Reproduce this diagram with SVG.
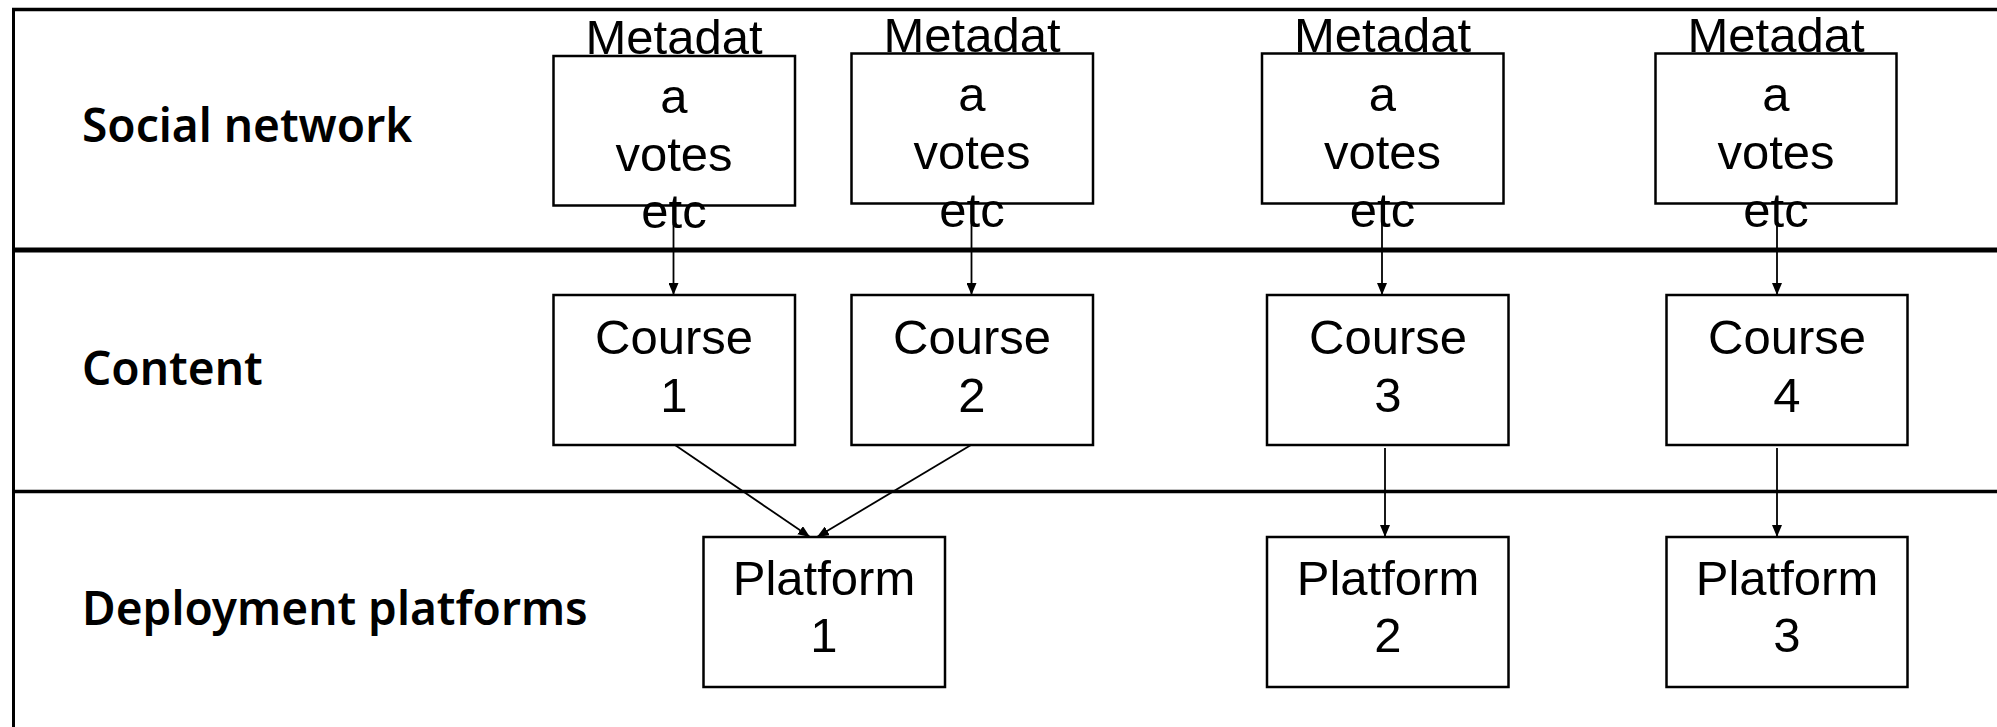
<svg xmlns="http://www.w3.org/2000/svg" width="1997" height="727" viewBox="0 0 1997 727">
<style>
.box{fill:none;stroke:#000;stroke-width:2.5}
.t{font-family:"Liberation Sans",Arial,sans-serif;font-size:49px;fill:#000;text-anchor:middle}
.lab{font-family:"Noto Sans","Open Sans",sans-serif;font-size:46px;font-weight:600;fill:#000}
.con{stroke:#000;stroke-width:1.8;fill:none;marker-end:url(#ah)}
.frame{stroke:#000;fill:none}
</style>
<defs>
<marker id="ah" markerUnits="userSpaceOnUse" markerWidth="12" markerHeight="10" refX="12" refY="5" orient="auto">
<path d="M0,0 L12,5 L0,10 z" fill="#000"/>
</marker>
</defs>
<rect width="1997" height="727" fill="#fff"/>
<g id="frame">
<line class="frame" x1="12" y1="9.5" x2="1997" y2="9.5" stroke-width="3.5"/>
<line class="frame" x1="13.5" y1="8" x2="13.5" y2="727" stroke-width="3"/>
<line class="frame" x1="12" y1="250" x2="1997" y2="250" stroke-width="5"/>
<line class="frame" x1="12" y1="491.5" x2="1997" y2="491.5" stroke-width="3.5"/>
</g>
<g id="lane-labels">
<text class="lab" x="82" y="142">Social network</text>
<text class="lab" x="82" y="385">Content</text>
<text class="lab" x="82" y="625">Deployment platforms</text>
</g>
<g id="meta1">
<text class="t" x="674"><tspan x="674" y="54">Metadat</tspan><tspan x="674" y="113">a</tspan><tspan x="674" y="170.5">votes</tspan><tspan x="674" y="228">etc</tspan></text>
<rect class="box" x="553.5" y="56" width="241.5" height="149.5"/>
</g>
<g id="meta2">
<text class="t" x="972"><tspan x="972" y="52">Metadat</tspan><tspan x="972" y="110.5">a</tspan><tspan x="972" y="168.5">votes</tspan><tspan x="972" y="227">etc</tspan></text>
<rect class="box" x="851.5" y="53.5" width="241.5" height="150"/>
</g>
<g id="meta3">
<text class="t" x="1382.5"><tspan x="1382.5" y="52">Metadat</tspan><tspan x="1382.5" y="110.5">a</tspan><tspan x="1382.5" y="168.5">votes</tspan><tspan x="1382.5" y="227">etc</tspan></text>
<rect class="box" x="1262" y="53.5" width="241.5" height="150"/>
</g>
<g id="meta4">
<text class="t" x="1776"><tspan x="1776" y="52">Metadat</tspan><tspan x="1776" y="110.5">a</tspan><tspan x="1776" y="168.5">votes</tspan><tspan x="1776" y="227">etc</tspan></text>
<rect class="box" x="1655.5" y="53.5" width="241" height="150"/>
</g>
<g id="course1">
<rect class="box" x="553.5" y="295" width="241.5" height="150"/>
<text class="t"><tspan x="674" y="354">Course</tspan><tspan x="674" y="411.5">1</tspan></text>
</g>
<g id="course2">
<rect class="box" x="851.5" y="295" width="241.5" height="150"/>
<text class="t"><tspan x="972" y="354">Course</tspan><tspan x="972" y="411.5">2</tspan></text>
</g>
<g id="course3">
<rect class="box" x="1267" y="295" width="241.5" height="150"/>
<text class="t"><tspan x="1388" y="354">Course</tspan><tspan x="1388" y="411.5">3</tspan></text>
</g>
<g id="course4">
<rect class="box" x="1666.5" y="295" width="241" height="150"/>
<text class="t"><tspan x="1787" y="354">Course</tspan><tspan x="1787" y="411.5">4</tspan></text>
</g>
<g id="platform1">
<rect class="box" x="703.5" y="537" width="241.5" height="150"/>
<text class="t"><tspan x="824" y="595">Platform</tspan><tspan x="824" y="652">1</tspan></text>
</g>
<g id="platform2">
<rect class="box" x="1267" y="537" width="241.5" height="150"/>
<text class="t"><tspan x="1388" y="595">Platform</tspan><tspan x="1388" y="652">2</tspan></text>
</g>
<g id="platform3">
<rect class="box" x="1666.5" y="537" width="241" height="150"/>
<text class="t"><tspan x="1787" y="595">Platform</tspan><tspan x="1787" y="652">3</tspan></text>
</g>
<g id="connectors">
<line class="con" x1="673.5" y1="206" x2="673.5" y2="295"/>
<line class="con" x1="971.5" y1="204" x2="971.5" y2="295"/>
<line class="con" x1="1382" y1="204" x2="1382" y2="295"/>
<line class="con" x1="1777" y1="204" x2="1777" y2="295"/>
<line class="con" x1="675" y1="445" x2="810" y2="537"/>
<line class="con" x1="971" y1="445" x2="817" y2="537"/>
<line class="con" x1="1385" y1="448" x2="1385" y2="537"/>
<line class="con" x1="1777" y1="448" x2="1777" y2="537"/>
</g>
</svg>
